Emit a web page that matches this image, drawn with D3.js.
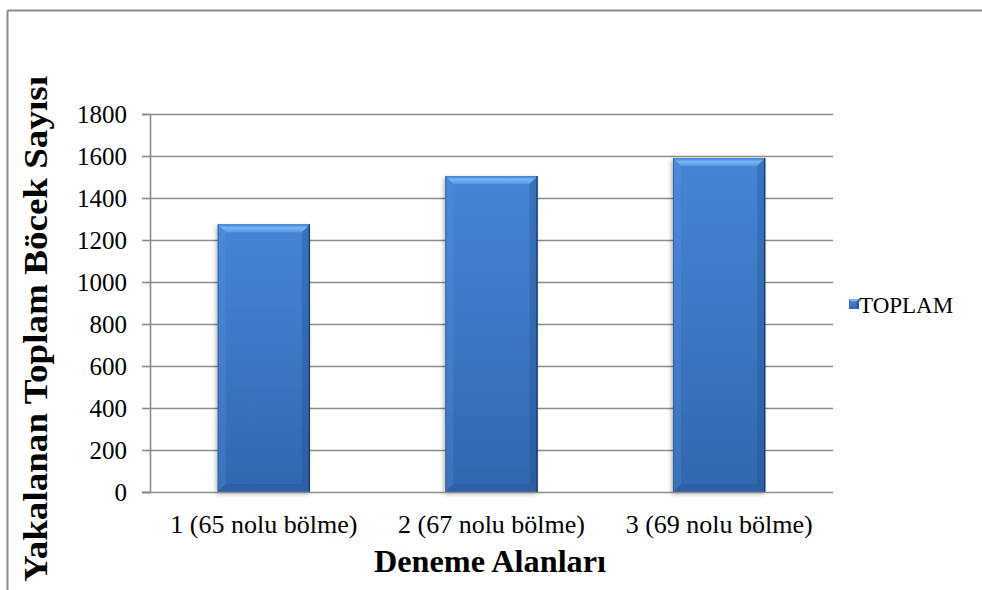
<!DOCTYPE html>
<html>
<head>
<meta charset="utf-8">
<script src="https://cdn.jsdelivr.net/npm/d3@7"></script>
<style>
  html, body { margin: 0; padding: 0; background: #fff; }
  svg { display: block; font-family: "Liberation Serif", "Times New Roman", serif; }
</style>
</head>
<body>
<svg id="chart" width="982" height="590"></svg>
<script>
// Insect catch totals per trial area
const categories = ["1 (65 nolu bölme)", "2 (67 nolu bölme)", "3 (69 nolu bölme)"];
const totals = [1275, 1505, 1590];
const yTicks = [0, 200, 400, 600, 800, 1000, 1200, 1400, 1600, 1800];
const seriesName = "TOPLAM";
const yTitle = "Yakalanan Toplam Böcek Sayısı";
const xTitle = "Deneme Alanları";

const svg = d3.select("#chart");
const plot = { left: 150, right: 833, top: 114, bottom: 492 };

const x = d3.scaleBand().domain(categories).range([plot.left, plot.right]).padding(0);
const y = d3.scaleLinear().domain([0, 1800]).range([plot.bottom, plot.top]);
const barW = x.bandwidth() * 0.405;

// Gradients and shadow for the bevelled bars
const defs = svg.append("defs");
const body = defs.append("linearGradient").attr("id", "barBody").attr("x1", 0).attr("y1", 0).attr("x2", 0).attr("y2", 1);
body.append("stop").attr("offset", "0%").attr("stop-color", "#4585d6");
body.append("stop").attr("offset", "50%").attr("stop-color", "#3b77c4");
body.append("stop").attr("offset", "100%").attr("stop-color", "#3266ae");
const topBev = defs.append("linearGradient").attr("id", "barTop").attr("x1", 0).attr("y1", 0).attr("x2", 0).attr("y2", 1);
topBev.append("stop").attr("offset", "0%").attr("stop-color", "#3f7fd0");
topBev.append("stop").attr("offset", "45%").attr("stop-color", "#75b8f4");
topBev.append("stop").attr("offset", "100%").attr("stop-color", "#5797e2");
const shadow = defs.append("filter").attr("id", "barShadow").attr("x", "-20%").attr("y", "-5%").attr("width", "140%").attr("height", "115%");
shadow.append("feDropShadow").attr("dx", -1.5).attr("dy", 2).attr("stdDeviation", 2.2)
  .attr("flood-color", "#000").attr("flood-opacity", 0.3);

// Outer frame (top and left edges visible)
svg.append("line").attr("x1", 7.5).attr("x2", 982).attr("y1", 10.5).attr("y2", 10.5)
  .attr("stroke", "#8a8a8a").attr("stroke-width", 2);
svg.append("line").attr("x1", 7.5).attr("x2", 7.5).attr("y1", 10.5).attr("y2", 590)
  .attr("stroke", "#8a8a8a").attr("stroke-width", 2);

// Gridlines
svg.append("g").selectAll("line").data(yTicks.filter(d => d > 0)).join("line")
  .attr("x1", plot.left).attr("x2", plot.right)
  .attr("y1", d => Math.round(y(d)) + 0.5).attr("y2", d => Math.round(y(d)) + 0.5)
  .attr("stroke", "#8c8c8c").attr("stroke-width", 1.6);

// Y axis
const yAxis = svg.append("g").attr("transform", `translate(${plot.left},0)`)
  .call(d3.axisLeft(y).tickValues(yTicks).tickSize(8).tickPadding(15).tickFormat(d3.format("d")));
yAxis.select(".domain").attr("stroke", "#8c8c8c").attr("stroke-width", 1.6);
yAxis.selectAll(".tick line").attr("stroke", "#8c8c8c").attr("stroke-width", 1.6);
yAxis.selectAll(".tick text").attr("font-family", "Liberation Serif, Times New Roman, serif")
  .attr("font-size", 25).attr("fill", "#000").attr("dy", "0.34em");

// Bars with bevel
const bev = 8;
const bars = svg.append("g").selectAll("g").data(categories.map((c, i) => ({ c, v: totals[i] }))).join("g")
  .attr("transform", d => `translate(${x(d.c) + (x.bandwidth() - barW) / 2},${y(d.v)})`);
bars.append("rect").attr("width", barW).attr("height", d => plot.bottom - y(d.v))
  .attr("fill", "url(#barBody)").attr("filter", "url(#barShadow)");
// top bevel (light)
bars.append("path").attr("d", `M0,0 L${barW},0 L${barW - bev},${bev} L${bev},${bev} Z`)
  .attr("fill", "url(#barTop)");
// left bevel
bars.append("path").attr("d", d => { const h = plot.bottom - y(d.v); return `M0,0 L${bev},${bev} L${bev},${h - bev} L0,${h} Z`; })
  .attr("fill", "#5a98e0").attr("opacity", 0.25);
// right bevel (dark)
bars.append("path").attr("d", d => { const h = plot.bottom - y(d.v); return `M${barW},0 L${barW},${h} L${barW - bev},${h - bev} L${barW - bev},${bev} Z`; })
  .attr("fill", "#1f4a86").attr("opacity", 0.3);
// bottom bevel
bars.append("path").attr("d", d => { const h = plot.bottom - y(d.v); return `M0,${h} L${bev},${h - bev} L${barW - bev},${h - bev} L${barW},${h} Z`; })
  .attr("fill", "#24528f").attr("opacity", 0.35);
// dark edges
bars.append("line").attr("x1", barW - 0.6).attr("x2", barW - 0.6).attr("y1", 0).attr("y2", d => plot.bottom - y(d.v))
  .attr("stroke", "#173760").attr("stroke-width", 1.2);
bars.append("line").attr("x1", 0.4).attr("x2", 0.4).attr("y1", 0).attr("y2", d => plot.bottom - y(d.v))
  .attr("stroke", "#2a5a9a").attr("stroke-width", 0.8);

// X axis baseline
svg.append("line").attr("x1", plot.left - 8).attr("x2", plot.right)
  .attr("y1", plot.bottom + 0.5).attr("y2", plot.bottom + 0.5)
  .attr("stroke", "#8c8c8c").attr("stroke-width", 1.6);

// Category labels
svg.append("g").selectAll("text").data(categories).join("text")
  .attr("x", d => x(d) + x.bandwidth() / 2).attr("y", 533)
  .attr("text-anchor", "middle").attr("font-size", 26).attr("fill", "#000").text(d => d);

// Axis titles
svg.append("text").attr("x", 490).attr("y", 572).attr("text-anchor", "middle")
  .attr("font-size", 32).attr("font-weight", "bold").attr("fill", "#000")
  .attr("textLength", 232).attr("lengthAdjust", "spacingAndGlyphs").text(xTitle);
svg.append("text").attr("transform", "translate(47,329) rotate(-90)").attr("text-anchor", "middle")
  .attr("font-size", 34).attr("font-weight", "bold").attr("fill", "#000")
  .attr("textLength", 506).attr("lengthAdjust", "spacingAndGlyphs").text(yTitle);

// Legend
const lg = svg.append("g").attr("transform", "translate(849,299)");
lg.append("rect").attr("width", 10).attr("height", 10).attr("fill", "url(#barBody)");
lg.append("path").attr("d", "M0,0 L10,0 L7.5,2.5 L2.5,2.5 Z").attr("fill", "#75b8f4");
lg.append("path").attr("d", "M10,0 L10,10 L7.5,7.5 L7.5,2.5 Z").attr("fill", "#1f4a86").attr("opacity", 0.6);
lg.append("text").attr("x", 10).attr("y", 13.5).attr("font-size", 23).attr("fill", "#000").text(seriesName);
</script>
</body>
</html>
